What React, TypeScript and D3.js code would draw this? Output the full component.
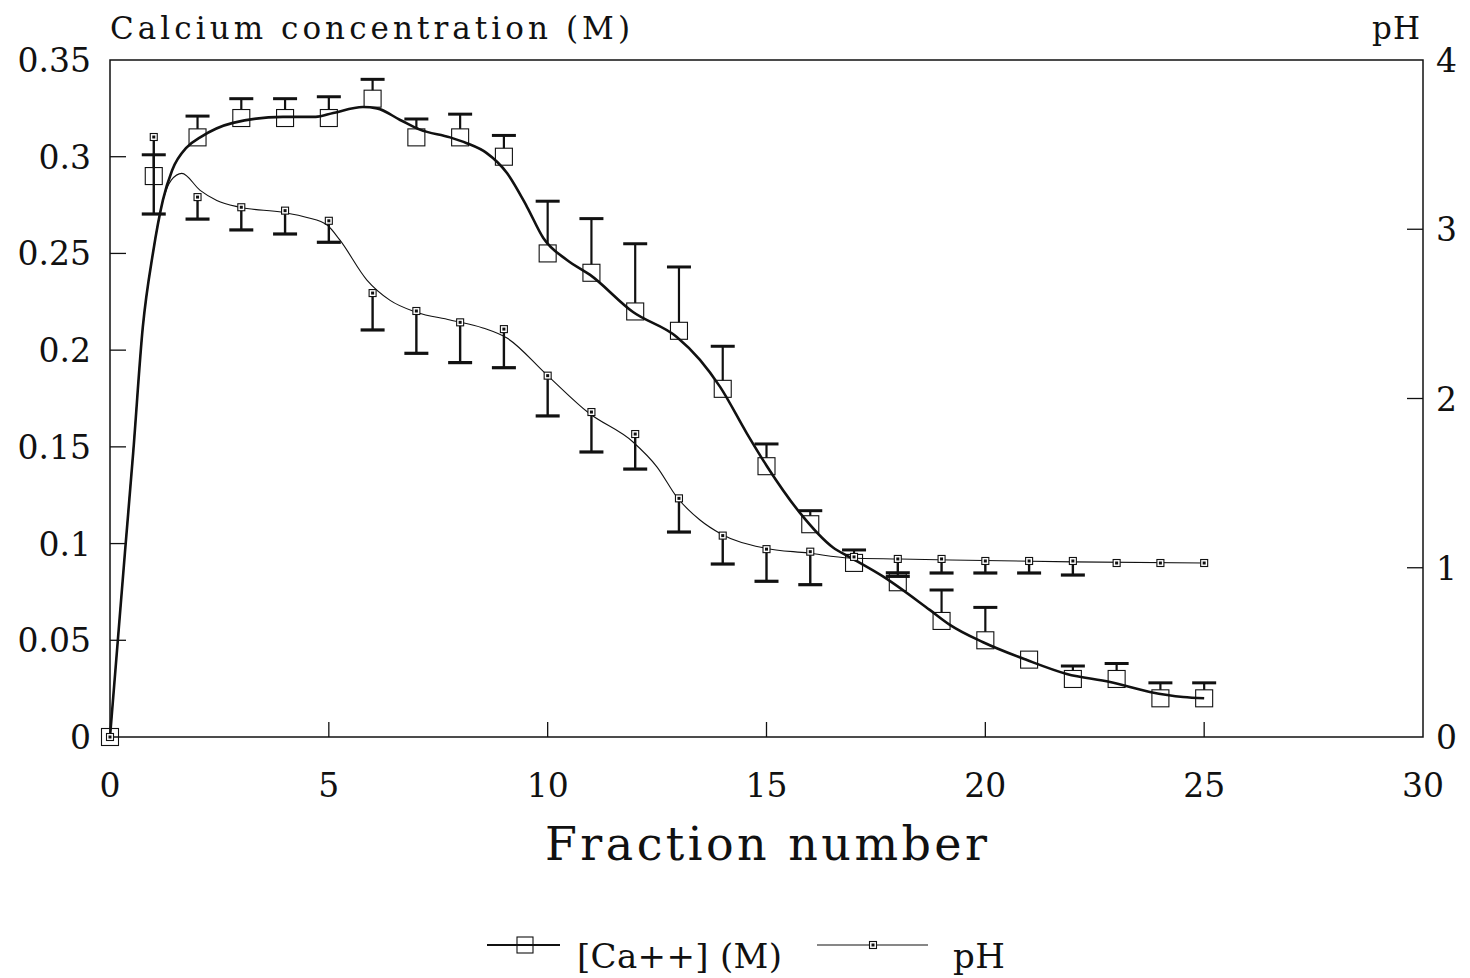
import React from "react";
import * as d3 from "d3";

// ---- data ----
const fraction = [0, 1, 2, 3, 4, 5, 6, 7, 8, 9, 10, 11, 12, 13, 14, 15, 16, 17, 18, 19, 20, 21, 22, 23, 24, 25];
const calcium = [0, 0.29, 0.31, 0.32, 0.32, 0.32, 0.33, 0.31, 0.31, 0.30, 0.25, 0.24, 0.22, 0.21, 0.18, 0.14, 0.11, 0.09, 0.08, 0.06, 0.05, 0.04, 0.03, 0.03, 0.02, 0.02];
const calciumUpper: (number | null)[] = [null, 0.301, 0.321, 0.330, 0.330, 0.331, 0.340, 0.3195, 0.322, 0.311, 0.277, 0.268, 0.255, 0.243, 0.202, 0.1515, 0.117, 0.0967, 0.083, 0.076, 0.067, null, 0.0367, 0.038, 0.028, 0.028];
const pH = [0, 3.545, 3.19, 3.13, 3.11, 3.05, 2.623, 2.517, 2.45, 2.41, 2.135, 1.92, 1.79, 1.41, 1.19, 1.11, 1.095, 1.064, 1.052, 1.052, 1.04, 1.04, 1.04, 1.028, 1.028, 1.028];
const pHLower: (number | null)[] = [null, 3.09, 3.06, 2.996, 2.972, 2.923, 2.405, 2.267, 2.212, 2.182, 1.897, 1.684, 1.583, 1.211, 1.022, 0.92, 0.90, null, 0.97, 0.969, 0.969, 0.969, 0.957, null, null, null];

// smoothed fit curves
const caFitX = [0, 0.34, 0.53, 0.75, 0.98, 1.21, 1.42, 1.76, 2.06, 2.81, 3.95, 4.7, 5.1, 5.78, 6.1, 6.63, 7.08, 7.77, 8.15, 8.6, 9.07, 9.53, 9.9, 10.44, 10.97, 11.95, 12.95, 13.48, 13.94, 14.55, 15.01, 15.76, 16.52, 16.9, 17.66, 18.73, 19.19, 19.95, 20.95, 21.86, 22.85, 23.76, 24.52, 25];
const caFitY = [0, 0.095, 0.147, 0.212, 0.25, 0.2777, 0.293, 0.305, 0.31, 0.3175, 0.3206, 0.3206, 0.3226, 0.3257, 0.325, 0.319, 0.314, 0.31, 0.307, 0.302, 0.2916, 0.274, 0.258, 0.2466, 0.2389, 0.2197, 0.2068, 0.195, 0.181, 0.157, 0.14, 0.116, 0.098, 0.093, 0.083, 0.0657, 0.058, 0.049, 0.0398, 0.0326, 0.0284, 0.0233, 0.0207, 0.02];
const phFitX = [0, 0.34, 0.53, 0.75, 0.98, 1.21, 1.4, 1.64, 2.06, 2.44, 2.97, 3.95, 4.5, 4.96, 5.25, 5.87, 6.4, 7.0, 7.77, 8.52, 9.07, 9.98, 10.94, 11.95, 12.5, 12.95, 13.48, 13.96, 14.94, 15.95, 16.9, 18.05, 19.2, 22, 25];
const phFitY = [0, 1.087, 1.69, 2.42, 2.86, 3.17, 3.29, 3.33, 3.23, 3.17, 3.13, 3.10, 3.07, 3.025, 2.937, 2.70, 2.58, 2.51, 2.464, 2.417, 2.357, 2.14, 1.914, 1.743, 1.595, 1.418, 1.282, 1.2, 1.117, 1.087, 1.058, 1.052, 1.046, 1.035, 1.028];

const xTicks = [0, 5, 10, 15, 20, 25, 30];
const leftTicks = [0, 0.05, 0.1, 0.15, 0.2, 0.25, 0.3, 0.35];
const leftTickLabels = ["0", "0.05", "0.1", "0.15", "0.2", "0.25", "0.3", "0.35"];
const rightTicks = [0, 1, 2, 3, 4];

const FONT = "'DejaVu Serif', serif";

export default function App() {
  const L = 110, R = 1423, T = 60, B = 737;
  const x = d3.scaleLinear().domain([0, 30]).range([L, R]);
  const yL = d3.scaleLinear().domain([0, 0.35]).range([B, T]);
  const yR = d3.scaleLinear().domain([0, 4]).range([B, T]);

  const caLine = d3.line<number>().x((_, i) => x(caFitX[i])).y((d) => yL(d)).curve(d3.curveMonotoneX);
  const phLine = d3.line<number>().x((_, i) => x(phFitX[i])).y((d) => yR(d)).curve(d3.curveMonotoneX);

  const ink = "#111";
  const sq = 17;
  const capW = 24;

  return (
    <svg width={1470} height={978} style={{ position: "absolute", left: 0, top: 0, background: "#fff" }} fontFamily={FONT}>
      <rect x={0} y={0} width={1470} height={978} fill="#fff" />
      {/* frame */}
      <rect x={L} y={T} width={R - L} height={B - T} fill="none" stroke={ink} strokeWidth={1.5} />
      {/* x ticks */}
      {xTicks.map((t) => (
        <g key={"xt" + t}>
          {t > 0 && t < 30 && <line x1={x(t)} x2={x(t)} y1={B} y2={B - 15} stroke={ink} strokeWidth={1.3} />}
          <text x={x(t)} y={797} fontSize={33} textAnchor="middle" fill={ink}>{t}</text>
        </g>
      ))}
      {/* left ticks */}
      {leftTicks.map((t, i) => (
        <g key={"lt" + t}>
          {i > 0 && i < leftTicks.length - 1 && <line x1={L} x2={L + 16} y1={yL(t)} y2={yL(t)} stroke={ink} strokeWidth={1.3} />}
          <text x={91} y={yL(t) + 12} fontSize={33} textAnchor="end" fill={ink}>{leftTickLabels[i]}</text>
        </g>
      ))}
      {/* right ticks */}
      {rightTicks.map((t, i) => (
        <g key={"rt" + t}>
          {i > 0 && i < rightTicks.length - 1 && <line x1={R} x2={R - 16} y1={yR(t)} y2={yR(t)} stroke={ink} strokeWidth={1.3} />}
          <text x={1436} y={yR(t) + 12} fontSize={33} textAnchor="start" fill={ink}>{t}</text>
        </g>
      ))}
      {/* axis titles */}
      <text x={110} y={39} fontSize={31} textLength={520} lengthAdjust="spacing" fill={ink}>Calcium concentration (M)</text>
      <text x={1372} y={39} fontSize={31} textLength={48} lengthAdjust="spacing" fill={ink}>pH</text>
      <text x={545} y={860} fontSize={46} textLength={442} lengthAdjust="spacing" fill={ink}>Fraction number</text>

      {/* fit curves */}
      <path d={phLine(phFitY) || ""} fill="none" stroke={ink} strokeWidth={1.1} />
      <path d={caLine(caFitY) || ""} fill="none" stroke={ink} strokeWidth={2.6} />

      {/* calcium error bars (upward) */}
      {fraction.map((f, i) =>
        calciumUpper[i] == null ? null : (
          <g key={"ce" + f}>
            <line x1={x(f)} x2={x(f)} y1={yL(calcium[i]) - sq / 2} y2={yL(calciumUpper[i] as number)} stroke={ink} strokeWidth={2.2} />
            <line x1={x(f) - capW / 2} x2={x(f) + capW / 2} y1={yL(calciumUpper[i] as number)} y2={yL(calciumUpper[i] as number)} stroke={ink} strokeWidth={3} />
          </g>
        )
      )}
      {/* pH error bars (downward) */}
      {fraction.map((f, i) =>
        pHLower[i] == null ? null : (
          <g key={"pe" + f}>
            <line x1={x(f)} x2={x(f)} y1={yR(pH[i]) + 3} y2={yR(pHLower[i] as number)} stroke={ink} strokeWidth={2.4} />
            <line x1={x(f) - capW / 2} x2={x(f) + capW / 2} y1={yR(pHLower[i] as number)} y2={yR(pHLower[i] as number)} stroke={ink} strokeWidth={3.2} />
          </g>
        )
      )}
      {/* calcium markers */}
      {fraction.map((f, i) => (
        <rect key={"cm" + f} x={x(f) - sq / 2} y={yL(calcium[i]) - sq / 2} width={sq} height={sq} fill="none" stroke={ink} strokeWidth={1.1} />
      ))}
      {/* pH markers */}
      {fraction.map((f, i) => (
        <g key={"pm" + f}>
          <rect x={x(f) - 3.5} y={yR(pH[i]) - 3.5} width={7} height={7} fill="#fff" stroke={ink} strokeWidth={1.1} />
          <rect x={x(f) - 1.5} y={yR(pH[i]) - 1.5} width={3} height={3} fill={ink} />
        </g>
      ))}

      {/* legend */}
      <line x1={487} x2={560} y1={945} y2={945} stroke={ink} strokeWidth={2.2} />
      <rect x={525 - 8} y={945 - 8} width={16} height={16} fill="none" stroke={ink} strokeWidth={1.1} />
      <text x={577} y={968} fontSize={34} textLength={205} lengthAdjust="spacing" fill={ink}>[Ca++] (M)</text>
      <line x1={817} x2={928} y1={945} y2={945} stroke={ink} strokeWidth={1.1} />
      <rect x={873 - 3.5} y={945 - 3.5} width={7} height={7} fill="#fff" stroke={ink} strokeWidth={1.1} />
      <rect x={873 - 1.5} y={945 - 1.5} width={3} height={3} fill={ink} />
      <text x={953} y={968} fontSize={34} textLength={52} lengthAdjust="spacing" fill={ink}>pH</text>
    </svg>
  );
}
